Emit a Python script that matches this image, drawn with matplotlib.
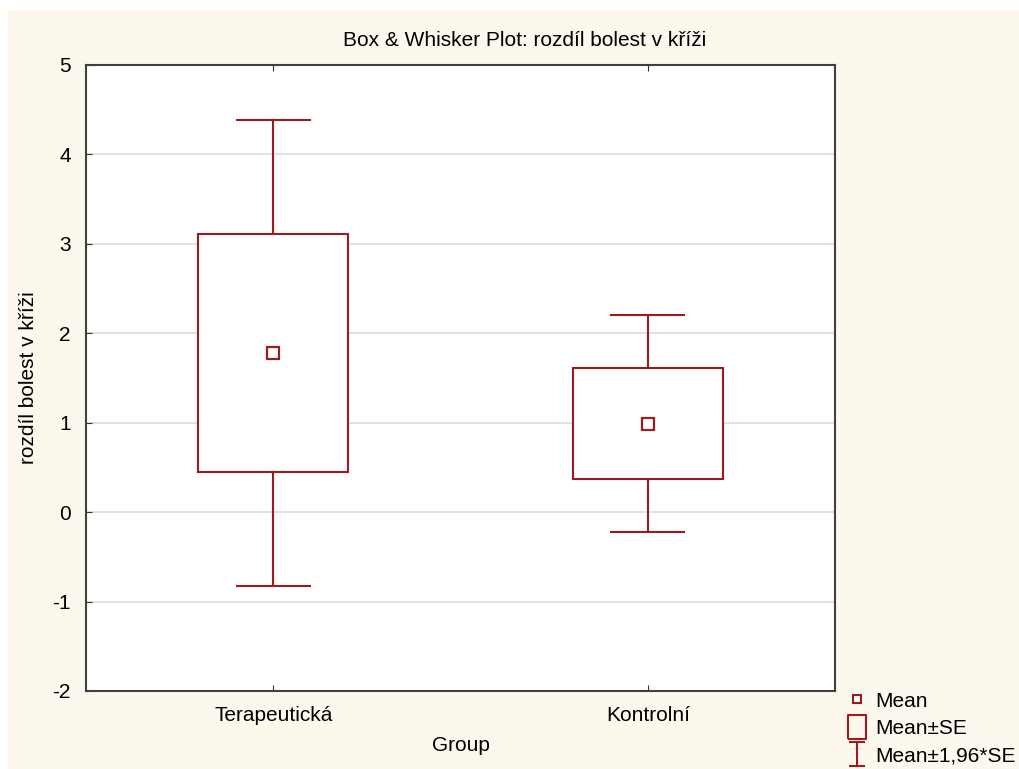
import matplotlib.pyplot as plt
from matplotlib.patches import Rectangle
from matplotlib.lines import Line2D
from matplotlib.path import Path
import numpy as np

groups = ["Terapeutická", "Kontrolní"]
means = [1.78, 0.99]
se = [1.33, 0.62]
z = 1.96

red = "#9b1c1f"
cream = "#fdf8ee"

plt.rcParams['font.family'] = ['Liberation Sans', 'DejaVu Sans']
plt.rcParams['axes.unicode_minus'] = False

fig = plt.figure(figsize=(10.19, 7.69), dpi=100, facecolor="white")
# cream panel behind everything, thin white strip on top and left
fig.patches.append(Rectangle((8 / 1019, 0), 1, 759 / 769, transform=fig.transFigure,
                             facecolor=cream, edgecolor="none", zorder=-10))

ax = fig.add_axes([86 / 1019, 78 / 769, 749 / 1019, 626 / 769])
ax.set_facecolor("white")

pos = np.arange(1, len(groups) + 1)
m = np.array(means)
s = np.array(se)
box_w = 0.4
cap_w = 0.2

ax.vlines(pos, m - z * s, m - s, color=red, lw=1.5, zorder=3)
ax.vlines(pos, m + s, m + z * s, color=red, lw=1.5, zorder=3)
ax.hlines(m - z * s, pos - cap_w / 2, pos + cap_w / 2, color=red, lw=1.5, zorder=3)
ax.hlines(m + z * s, pos - cap_w / 2, pos + cap_w / 2, color=red, lw=1.5, zorder=3)
for p, mm, ss in zip(pos, m, s):
    ax.add_patch(Rectangle((p - box_w / 2, mm - ss), box_w, 2 * ss, facecolor="white",
                           edgecolor=red, lw=1.5, zorder=3))
ax.plot(pos, m, ls="none", marker="s", ms=8, mfc="white", mec=red, mew=1.6, zorder=4)

ax.set_xlim(0.5, 2.5)
ax.set_ylim(-2, 5)
ax.set_xticks(pos)
ax.set_xticklabels(groups, fontsize=15)
ax.set_yticks(range(-2, 6))
ax.tick_params(axis="y", labelsize=15, direction="in", length=4, color="#303030", pad=11)
ax.tick_params(axis="x", direction="in", length=4, color="#303030", top=True, pad=11)
ax.grid(axis="y", color="#dcdcdc", lw=1.2, zorder=0)
ax.set_axisbelow(True)
for sp in ax.spines.values():
    sp.set_color("#404040")
    sp.set_linewidth(1.5)

ax.set_xlabel("Group", fontsize=15, labelpad=8)
ax.set_ylabel("rozdíl bolest v kříži", fontsize=15, labelpad=10)
fig.text(0.515, 1 - 40 / 769, "Box & Whisker Plot: rozdíl bolest v kříži", ha="center",
         va="center", fontsize=15)

# legend markers: small square, tall box, I-beam
tall_box = Path([(-0.38, -0.5), (0.38, -0.5), (0.38, 0.5), (-0.38, 0.5), (-0.38, -0.5)])
ibeam = Path([(-0.32, 0.5), (0.32, 0.5), (0, 0.5), (0, -0.5), (-0.32, -0.5), (0.32, -0.5)],
             [Path.MOVETO, Path.LINETO, Path.MOVETO, Path.LINETO, Path.MOVETO, Path.LINETO])
handles = [
    Line2D([], [], ls="none", marker="s", ms=6, mfc="white", mec=red, mew=1.5),
    Line2D([], [], ls="none", marker=tall_box, ms=17, mfc="none", mec=red, mew=1.5),
    Line2D([], [], ls="none", marker=ibeam, ms=17, mfc="none", mec=red, mew=1.5),
]
fig.legend(handles, ["Mean", "Mean±SE", "Mean±1,96*SE"], loc="lower left",
           bbox_to_anchor=(830 / 1019, -0.014), frameon=False, fontsize=15,
           handlelength=1.2, handletextpad=0.25, labelspacing=0.4, borderpad=0.2)

fig.savefig("out.png", dpi=100, facecolor=fig.get_facecolor())
